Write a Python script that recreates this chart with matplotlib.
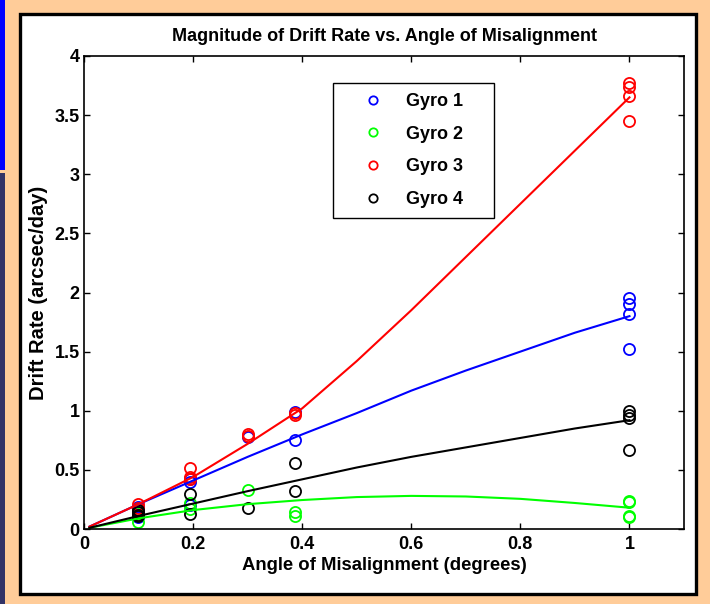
import numpy as np
import matplotlib.pyplot as plt
from matplotlib.patches import Rectangle

plt.rcParams['font.family'] = ['Liberation Sans', 'DejaVu Sans']
plt.rcParams['font.weight'] = 'bold'

# measured drift rates (arcsec/day) at each misalignment angle (deg)
g1_x = [0.099, 0.099, 0.099, 0.195, 0.195, 0.195, 0.301, 0.387, 0.387, 1.0, 1.0, 1.0, 1.0]
g1_y = [0.19, 0.14, 0.10, 0.42, 0.40, 0.20, 0.78, 0.99, 0.75, 1.95, 1.90, 1.82, 1.52]
g2_x = [0.099, 0.099, 0.099, 0.195, 0.195, 0.301, 0.387, 0.387, 1.0, 1.0, 1.0, 1.0]
g2_y = [0.16, 0.13, 0.06, 0.22, 0.17, 0.33, 0.145, 0.11, 0.24, 0.23, 0.11, 0.10]
g3_x = [0.099, 0.099, 0.099, 0.195, 0.195, 0.195, 0.301, 0.301, 0.387, 0.387, 1.0, 1.0, 1.0, 1.0]
g3_y = [0.21, 0.18, 0.16, 0.52, 0.44, 0.42, 0.80, 0.79, 0.98, 0.96, 3.77, 3.74, 3.66, 3.45]
g4_x = [0.099, 0.099, 0.099, 0.099, 0.195, 0.195, 0.301, 0.387, 0.387, 1.0, 1.0, 1.0, 1.0]
g4_y = [0.16, 0.14, 0.12, 0.11, 0.30, 0.13, 0.18, 0.56, 0.32, 1.00, 0.96, 0.94, 0.67]

# model curves
fit_x = [0.01, 0.1, 0.2, 0.3, 0.4, 0.5, 0.6, 0.7, 0.8, 0.9, 1.0]
fit1 = [0.02, 0.21, 0.41, 0.61, 0.80, 0.98, 1.17, 1.34, 1.50, 1.66, 1.80]
fit2 = [0.01, 0.09, 0.16, 0.21, 0.245, 0.27, 0.28, 0.275, 0.255, 0.22, 0.18]
fit3 = [0.02, 0.21, 0.44, 0.72, 1.02, 1.42, 1.85, 2.30, 2.75, 3.20, 3.65]
fit4 = [0.01, 0.11, 0.215, 0.32, 0.42, 0.52, 0.61, 0.69, 0.77, 0.85, 0.92]

labels = ['Gyro 1', 'Gyro 2', 'Gyro 3', 'Gyro 4']
colors = ['#0000ff', '#00ff00', '#ff0000', '#000000']

W, H = 710, 604
fig = plt.figure(figsize=(W / 100, H / 100), dpi=100)
fig.patch.set_facecolor('#ffcc99')

# slide decorations: side bar and white panel
fig.patches.append(Rectangle((0, 1 - 170 / H), 5 / W, 170 / H, transform=fig.transFigure,
                             facecolor='#0000ff', edgecolor='none', zorder=-10))
fig.patches.append(Rectangle((0, 0), 5 / W, (H - 173) / H, transform=fig.transFigure,
                             facecolor='#333366', edgecolor='none', zorder=-10))
fig.patches.append(Rectangle((20 / W, 1 - 594 / H), 676 / W, 580 / H, transform=fig.transFigure,
                             facecolor='white', edgecolor='black', linewidth=2.4, zorder=-10))

ax = fig.add_axes([84 / W, 75 / H, 600 / W, 473 / H])

pts = [(g1_x, g1_y), (g2_x, g2_y), (g3_x, g3_y), (g4_x, g4_y)]
fits = [fit1, fit2, fit3, fit4]
for (px, py), c, lab in zip(pts, colors, labels):
    ax.plot(px, py, 'o', mfc='none', mec=c, ms=8, mew=1.3, label=lab, linestyle='none')
for f, c in zip(fits, colors):
    ax.plot(fit_x, f, '-', color=c, lw=1.5)

ax.set_xlim(0, 1.1)
ax.set_ylim(0, 4)
ax.set_xticks([0, 0.2, 0.4, 0.6, 0.8, 1])
ax.set_xticklabels(['0', '0.2', '0.4', '0.6', '0.8', '1'])
ax.set_yticks(np.arange(0, 4.01, 0.5))
ax.set_yticklabels(['0', '0.5', '1', '1.5', '2', '2.5', '3', '3.5', '4'])
ax.tick_params(direction='in', top=True, right=True, length=4, width=1, labelsize=13, pad=3)
ax.tick_params(axis='x', pad=5)
for s in ax.spines.values():
    s.set_linewidth(1.2)

ax.set_title('Magnitude of Drift Rate vs. Angle of Misalignment', fontsize=13, fontweight='bold', pad=11)
ax.set_xlabel('Angle of Misalignment (degrees)', fontsize=13.3, fontweight='bold', labelpad=3)
ax.set_ylabel('Drift Rate (arcsec/day)', fontsize=14.5, fontweight='bold', labelpad=5)

# legend box spans a fixed width, entries left-aligned inside it
leg = ax.legend(loc='upper left', bbox_to_anchor=(0.415, 0.656, 0.268, 0.287), mode='expand',
                fontsize=13, frameon=True, fancybox=False, edgecolor='black', framealpha=1,
                borderpad=0.55, labelspacing=0.87, handlelength=3.3, handletextpad=0.22,
                borderaxespad=0, markerscale=0.75)
leg.get_frame().set_linewidth(1)

fig.savefig('out.png', dpi=100, facecolor=fig.get_facecolor())
